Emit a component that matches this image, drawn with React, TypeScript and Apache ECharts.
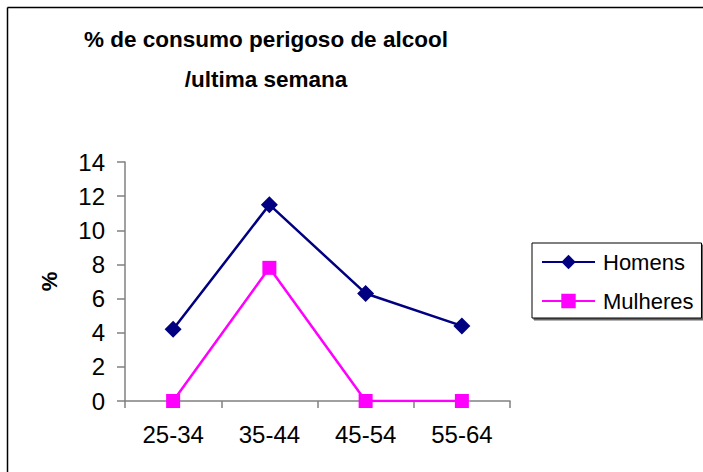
import React, { useEffect, useRef } from "react";
import * as echarts from "echarts";

const titleLines = ["% de consumo perigoso de alcool", "/ultima semana"];
const categories = ["25-34", "35-44", "45-54", "55-64"];
const homens = [4.2, 11.5, 6.3, 4.4];
const mulheres = [0, 7.8, 0, 0];
const seriesNames = ["Homens", "Mulheres"];
const yTicks = { min: 0, max: 14, interval: 2 };

const FONT = "'Liberation Sans', Arial, sans-serif";

export default function App() {
  const ref = useRef<HTMLDivElement>(null);
  useEffect(() => {
    if (!ref.current) return;
    const chart = echarts.init(ref.current, null, { renderer: "svg" });
    chart.setOption({
      animation: false,
      backgroundColor: "#ffffff",
      title: {
        text: titleLines.join("\n"),
        left: 261,
        top: 14,
        textAlign: "center",
        textStyle: {
          fontFamily: FONT,
          fontWeight: "bold",
          fontSize: 22.5,
          lineHeight: 40,
          color: "#000",
        },
      },
      graphic: [
        {
          type: "line",
          shape: { x1: 7.5, y1: 7.5, x2: 710, y2: 7.5 },
          style: { stroke: "#000", lineWidth: 1.5 },
        },
        {
          type: "line",
          shape: { x1: 7.5, y1: 7.5, x2: 7.5, y2: 480 },
          style: { stroke: "#000", lineWidth: 1.5 },
        },
      ],
      legend: {
        orient: "vertical",
        left: 532,
        top: 243,
        data: seriesNames,
        itemWidth: 53,
        itemHeight: 18,
        itemGap: 15,
        padding: [7, 8, 5, 9],
        borderColor: "#000",
        borderWidth: 1,
        backgroundColor: "#fff",
        shadowColor: "rgba(0,0,0,0.6)",
        shadowBlur: 0,
        shadowOffsetX: 2,
        shadowOffsetY: 2,
        textStyle: {
          fontFamily: FONT,
          fontSize: 22,
          lineHeight: 24,
          color: "#000",
          padding: [0, 0, 0, 3],
        },
      },
      grid: { left: 125, right: 193, top: 162, bottom: 71, containLabel: false },
      xAxis: {
        type: "category",
        data: categories,
        boundaryGap: true,
        axisLine: { lineStyle: { color: "#808080", width: 1.5 } },
        axisTick: { show: true, length: 7, lineStyle: { color: "#808080", width: 1.5 } },
        axisLabel: { fontFamily: FONT, fontSize: 24, color: "#000", margin: 21 },
        splitLine: { show: false },
      },
      yAxis: {
        type: "value",
        min: yTicks.min,
        max: yTicks.max,
        interval: yTicks.interval,
        name: "%",
        nameLocation: "middle",
        nameRotate: 90,
        nameGap: 65,
        nameTextStyle: { fontFamily: FONT, fontSize: 22, fontWeight: "bold", color: "#000" },
        axisLine: { show: true, lineStyle: { color: "#808080", width: 1.5 } },
        axisTick: { show: true, length: 8, lineStyle: { color: "#808080", width: 1.5 } },
        axisLabel: { fontFamily: FONT, fontSize: 24, color: "#000", margin: 20 },
        splitLine: { show: false },
      },
      series: [
        {
          name: seriesNames[0],
          type: "line",
          data: homens,
          symbol: "diamond",
          symbolSize: 17,
          lineStyle: { color: "#000080", width: 2.5 },
          itemStyle: { color: "#000080" },
        },
        {
          name: seriesNames[1],
          type: "line",
          data: mulheres,
          symbol: "rect",
          symbolSize: 14,
          lineStyle: { color: "#ff00ff", width: 2.5 },
          itemStyle: { color: "#ff00ff" },
        },
      ],
    });
    return () => chart.dispose();
  }, []);
  return (
    <div
      ref={ref}
      style={{ position: "absolute", left: 0, top: 0, width: 703, height: 472 }}
    />
  );
}
